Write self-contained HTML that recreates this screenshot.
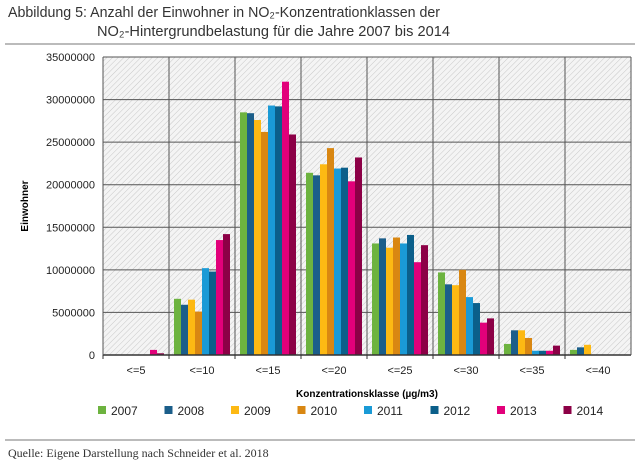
<!DOCTYPE html>
<html><head><meta charset="utf-8"><style>
body{margin:0;background:#fff;width:640px;height:465px;overflow:hidden;font-family:"Liberation Sans",sans-serif}
</style></head><body>
<svg width="640" height="465">
<defs><pattern id="hatch" width="4" height="4" patternUnits="userSpaceOnUse" patternTransform="rotate(45)"><rect width="4" height="4" fill="#f4f4f4"/><line x1="0" y1="0" x2="0" y2="4" stroke="#c8c8c8" stroke-width="1"/></pattern></defs>
<text x="8" y="17" font-size="15" fill="#333" textLength="432" lengthAdjust="spacingAndGlyphs">Abbildung 5: Anzahl der Einwohner in NO₂-Konzentrationklassen der</text>
<text x="97" y="36" font-size="15" fill="#333" textLength="353" lengthAdjust="spacingAndGlyphs">NO₂-Hintergrundbelastung für die Jahre 2007 bis 2014</text>
<line x1="5" y1="44" x2="635" y2="44" stroke="#777"/>
<rect x="103" y="57" width="528" height="298" fill="url(#hatch)"/>
<g id="grid"></g><g id="bars"></g><g id="axes"></g><g id="legend"></g>
<text x="28" y="206" font-size="10" font-weight="bold" text-anchor="middle" transform="rotate(-90 28 206)">Einwohner</text>
<text x="367" y="397" font-size="10" font-weight="bold" text-anchor="middle">Konzentrationsklasse (µg/m3)</text>
<line x1="5" y1="440" x2="635" y2="440" stroke="#777"/>
<text x="8" y="457" font-size="12" font-family="Liberation Serif,serif" fill="#333">Quelle: Eigene Darstellung nach Schneider et al. 2018</text>
</svg>
<script>
const categories=["<=5","<=10","<=15","<=20","<=25","<=30","<=35","<=40"];
const years=["2007","2008","2009","2010","2011","2012","2013","2014"];
const colors=["#6db33f","#1b5e8a","#fdb913","#d98712","#1a9ad6","#0b5f8a","#e2007a","#8c0046"];
const s2007=[0,6.6,28.5,21.4,13.1,9.7,1.3,0.6];
const s2008=[0,5.9,28.4,21.1,13.7,8.3,2.9,0.9];
const s2009=[0,6.5,27.6,22.4,12.6,8.2,2.9,1.2];
const s2010=[0,5.1,26.2,24.3,13.8,10.0,2.0,0];
const s2011=[0,10.2,29.3,21.9,13.1,6.8,0.5,0];
const s2012=[0,9.8,29.2,22.0,14.1,6.1,0.5,0];
const s2013=[0.6,13.5,32.1,20.4,10.9,3.8,0.5,0];
const s2014=[0.2,14.2,25.9,23.2,12.9,4.3,1.1,0];
const series=[s2007,s2008,s2009,s2010,s2011,s2012,s2013,s2014];
const yTicks=[0,5000000,10000000,15000000,20000000,25000000,30000000,35000000];
const NS="http://www.w3.org/2000/svg";
const X0=103,X1=631,Y0=355,Y1=57,MAX=35;
const gw=(X1-X0)/categories.length;
const y=v=>Y0-(v/MAX)*(Y0-Y1);
function mk(t,a,p){const e=document.createElementNS(NS,t);for(const k in a)e.setAttribute(k,a[k]);p.appendChild(e);return e;}
const grid=document.getElementById('grid'),bars=document.getElementById('bars'),axes=document.getElementById('axes'),leg=document.getElementById('legend');
yTicks.forEach(t=>{const yy=y(t/1e6);
const l=mk('line',{x1:X0,x2:X1,y1:yy,y2:yy,stroke:'#555','stroke-width':1},grid);


const tx=mk('text',{x:X0-8,y:yy+4,'font-size':11,'text-anchor':'end',fill:'#222'},axes);tx.textContent=t;

});
categories.forEach((c,i)=>{const xx=X0+gw*(i+1);
if(i<categories.length-1){const l=mk('line',{x1:xx,x2:xx,y1:Y1,y2:Y0,stroke:'#555'},grid);

}
const tx=mk('text',{x:X0+gw*(i+0.5),y:Y0+19,'font-size':11,'text-anchor':'middle',fill:'#222'},axes);tx.textContent=c;


const tk=mk('line',{x1:X0+gw*i,x2:X0+gw*i,y1:Y0,y2:Y0+4,stroke:'#333'},axes);


series.forEach((s,j)=>{const bw=7,bx=X0+gw*i+(gw-8*bw)/2+j*bw;const v=s[i];if(v<=0)return;
const r=mk('rect',{x:bx,y:y(v),width:bw,height:Y0-y(v),fill:colors[j]},bars);

});});
const ax=mk('line',{x1:X0,x2:X1,y1:Y0,y2:Y0,stroke:'#333','stroke-width':1.5},axes);


const ay=mk('line',{x1:X0,x2:X0,y1:Y1,y2:Y0,stroke:'#555'},axes);


const ar=mk('line',{x1:X1,x2:X1,y1:Y1,y2:Y0,stroke:'#555'},axes);


const at=mk('line',{x1:X0,x2:X1,y1:Y1,y2:Y1,stroke:'#555'},axes);


years.forEach((yr,j)=>{const lx=98+j*66.5;
const g=mk('g',{},leg);


mk('rect',{x:lx,y:406,width:8,height:8,fill:colors[j]},g);
const t=mk('text',{x:lx+13,y:415,'font-size':12,fill:'#222'},g);t.textContent=yr;});
</script>
</body></html>
